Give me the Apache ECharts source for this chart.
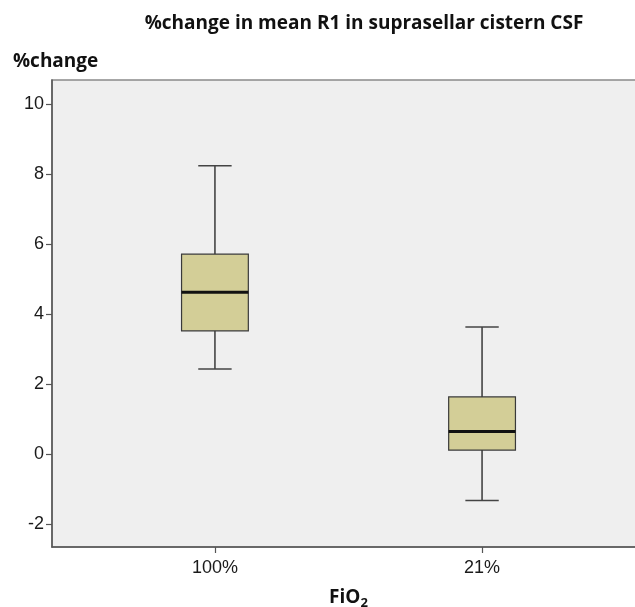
<!DOCTYPE html>
<html>
<head>
<meta charset="utf-8">
<title>%change in mean R1 in suprasellar cistern CSF</title>
<script src="https://cdn.jsdelivr.net/npm/echarts@6/dist/echarts.min.js"></script>
<style>
  html, body { margin: 0; padding: 0; background: #ffffff; }
  #chart { width: 635px; height: 607px; }
</style>
</head>
<body>
<div id="chart"></div>
<script>
// Groups on the x axis
const categories = ['100%', '21%'];
// Five-number summaries per group: [lower whisker, Q1, median, Q3, upper whisker]
const lowWhisker = [2.43, -1.33];
const q1 = [3.52, 0.11];
const medians = [4.62, 0.64];
const q3 = [5.71, 1.63];
const highWhisker = [8.24, 3.63];
// Y axis tick values
const yTicks = [-2, 0, 2, 4, 6, 8, 10];

const boxData = categories.map((c, i) => [i, lowWhisker[i], q1[i], medians[i], q3[i], highWhisker[i]]);

const chart = echarts.init(document.getElementById('chart'), null, { renderer: 'canvas' });

function renderBox(params, api) {
  const x = api.value(0);
  const lo = api.coord([x, api.value(1)]);
  const b1 = api.coord([x, api.value(2)]);
  const md = api.coord([x, api.value(3)]);
  const b3 = api.coord([x, api.value(4)]);
  const hi = api.coord([x, api.value(5)]);
  const boxW = api.size([0.25, 0])[0];
  const capW = boxW / 2;
  const whisker = { stroke: '#444444', lineWidth: 1.6 };
  return {
    type: 'group',
    children: [
      { type: 'line', shape: { x1: hi[0], y1: hi[1], x2: b3[0], y2: b3[1] }, style: whisker },
      { type: 'line', shape: { x1: b1[0], y1: b1[1], x2: lo[0], y2: lo[1] }, style: whisker },
      { type: 'line', shape: { x1: hi[0] - capW / 2, y1: hi[1], x2: hi[0] + capW / 2, y2: hi[1] }, style: whisker },
      { type: 'line', shape: { x1: lo[0] - capW / 2, y1: lo[1], x2: lo[0] + capW / 2, y2: lo[1] }, style: whisker },
      { type: 'rect', shape: { x: b3[0] - boxW / 2, y: b3[1], width: boxW, height: b1[1] - b3[1] },
        style: { fill: '#d3ce97', stroke: '#3a3a3a', lineWidth: 1.2 } },
      { type: 'line', shape: { x1: md[0] - boxW / 2, y1: md[1], x2: md[0] + boxW / 2, y2: md[1] },
        style: { stroke: '#111111', lineWidth: 3 } }
    ]
  };
}

chart.setOption({
  animation: false,
  backgroundColor: '#ffffff',
  title: [
    {
      text: '%change in mean R1 in suprasellar cistern CSF',
      left: 359, top: 9, textAlign: 'center',
      textStyle: { fontFamily: 'Open Sans', fontWeight: 'bold', fontSize: 19, color: '#111111' }
    },
    {
      text: '%change',
      left: 8, top: 47,
      textStyle: { fontFamily: 'Open Sans', fontWeight: 'bold', fontSize: 19, color: '#111111' }
    }
  ],
  grid: {
    left: 52, top: 80, width: 593, height: 467,
    outerBoundsMode: 'none',
    containLabel: false,
    show: true, backgroundColor: '#efefef', borderColor: '#8a8a8a', borderWidth: 1.5
  },
  xAxis: {
    type: 'value',
    min: -0.61, max: 1.61,
    splitLine: { show: false },
    axisLine: { show: true, onZero: false, lineStyle: { color: '#555555', width: 1.5 } },
    axisTick: { show: true, length: 6, customValues: [0, 1], lineStyle: { color: '#555555', width: 1.2 } },
    axisLabel: {
      customValues: [0, 1],
      formatter: v => categories[Math.round(v)],
      margin: 12,
      fontFamily: 'Liberation Sans', fontSize: 18, color: '#1a1a1a'
    },
    name: '{a|FiO}{b|2}',
    nameLocation: 'middle',
    nameGap: 38,
    nameTextStyle: {
      rich: {
        a: { fontFamily: 'Open Sans', fontWeight: 'bold', fontSize: 19, color: '#111111' },
        b: { fontFamily: 'Open Sans', fontWeight: 'bold', fontSize: 13, color: '#111111', padding: [12, 0, 0, 0] }
      }
    }
  },
  yAxis: {
    type: 'value',
    min: -2.66, max: 10.69,
    splitLine: { show: false },
    axisLine: { show: true, onZero: false, lineStyle: { color: '#555555', width: 1.5 } },
    axisTick: { show: true, length: 6, customValues: yTicks, lineStyle: { color: '#555555', width: 1.2 } },
    axisLabel: {
      customValues: yTicks,
      margin: 8,
      fontFamily: 'Liberation Sans', fontSize: 18, color: '#1a1a1a'
    }
  },
  series: [{
    type: 'custom',
    renderItem: renderBox,
    encode: { x: 0, y: [1, 2, 3, 4, 5] },
    data: boxData,
    clip: false
  }]
});
</script>
</body>
</html>
